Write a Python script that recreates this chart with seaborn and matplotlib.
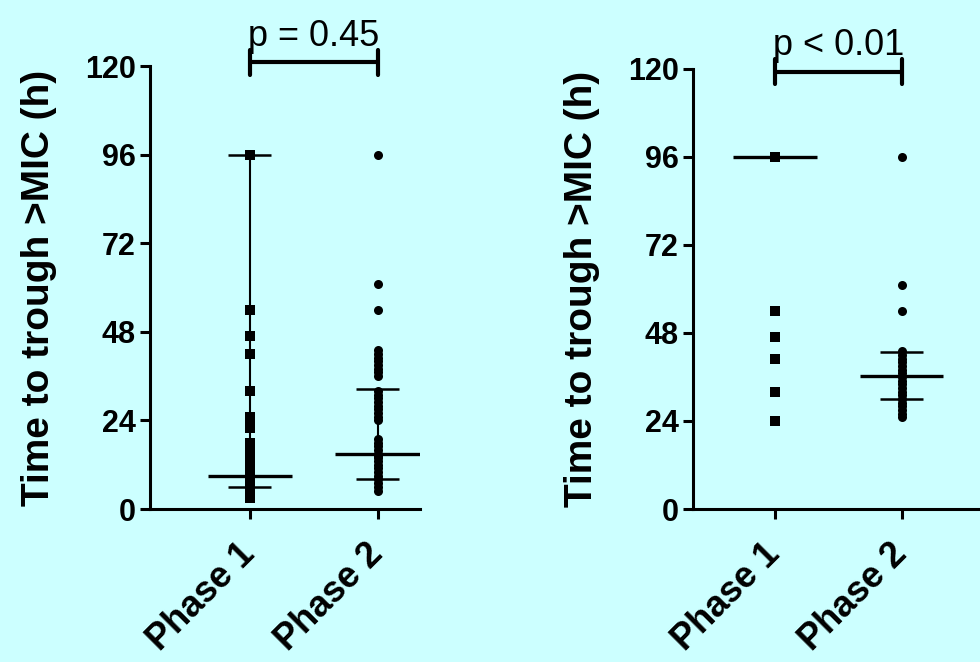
import matplotlib
matplotlib.use('Agg')
import matplotlib.pyplot as plt
import pandas as pd
import seaborn as sns

sns.set_theme(style="ticks")
plt.rcParams['font.family'] = ['Liberation Sans', 'DejaVu Sans']
plt.rcParams['text.color'] = 'black'
plt.rcParams['axes.labelcolor'] = 'black'
plt.rcParams['xtick.color'] = 'black'
plt.rcParams['ytick.color'] = 'black'

# global parameter
bg_color = '#ccffff'
fts_tick = 22
fts_label = 28
fts_phase = 26
fts_p = 26
spine_w = 2.2

# data
phases = ['Phase 1', 'Phase 2']
yticks = [0, 24, 48, 72, 96, 120]
y_label = 'Time to trough >MIC (h)'

left_phase1 = [96, 54, 47, 42, 32, 25, 23, 22, 18, 17, 16, 16, 15, 14, 13, 12, 12, 11,
               10, 9, 9, 8, 8, 7, 7, 6, 6, 5, 5, 4, 4, 3]
left_phase2 = [96, 61, 54, 43, 42, 41, 40, 39, 38, 37, 36, 32, 31, 30, 29, 28, 27, 26,
               25, 24, 19, 18, 17, 16, 15, 14, 14, 13, 12, 11, 10, 9, 8, 7, 6, 5]
right_phase1 = [96, 96, 96, 96, 96, 96, 96, 96, 54, 47, 41, 32, 24]
right_phase2 = [96, 61, 54, 43, 42, 41, 40, 39, 38, 37, 36, 35, 34, 33, 32, 31, 30, 29,
                28, 27, 26, 25]

left_median = [9, 15]
left_lower = [6, 8]
left_upper = [96, 32.5]
right_median = [96, 36.3]
right_lower = [96, 30]
right_upper = [96, 42.7]

p_labels = ['p = 0.45', 'p < 0.01']
bracket_y = [121, 119.2]


def DrawPanel(ax, v1, v2, med, lo, hi, p_text, by, xlim):
    df = pd.DataFrame({'phase': [phases[0]] * len(v1) + [phases[1]] * len(v2),
                       'value': v1 + v2})
    markers = ['s', 'o']
    for ph, mk in zip(phases, markers):
        sns.stripplot(data=df[df['phase'] == ph], x='phase', y='value', order=phases,
                      jitter=False, marker=mk, size=6.5, color='black', linewidth=0,
                      ax=ax, zorder=3)
    # median with error bars
    for i in range(len(phases)):
        ax.vlines(i, lo[i], hi[i], color='black', lw=1.5, zorder=4)
        ax.hlines(med[i], i - 0.33, i + 0.33, color='black', lw=2.4, zorder=4)
        if lo[i] != med[i]:
            ax.hlines(lo[i], i - 0.17, i + 0.17, color='black', lw=1.8, zorder=4)
        if hi[i] != med[i]:
            ax.hlines(hi[i], i - 0.17, i + 0.17, color='black', lw=1.8, zorder=4)
    # significance bracket
    ax.plot([0, 1], [by, by], color='black', lw=3, clip_on=False, solid_capstyle='butt')
    for i in range(len(phases)):
        ax.plot([i, i], [by - 3.4, by + 3.4], color='black', lw=3, clip_on=False,
                solid_capstyle='round')
    ax.text(0.5, by + 2.4, p_text, ha='center', va='bottom', fontsize=fts_p,
            color='black', clip_on=False)

    ax.set_xlim(*xlim)
    ax.set_ylim(0, 120)
    ax.set_yticks(yticks)
    ax.set_facecolor(bg_color)
    for s in ['top', 'right']:
        ax.spines[s].set_visible(False)
    for s in ['left', 'bottom']:
        ax.spines[s].set_linewidth(spine_w)
        ax.spines[s].set_color('black')
    ax.tick_params(axis='both', direction='out', length=7, width=spine_w, color='black')
    ax.tick_params(axis='y', labelsize=fts_tick, pad=3)
    ax.tick_params(axis='x', pad=22)
    for t in ax.get_yticklabels():
        t.set_fontweight('bold')
    ax.set_xticks(range(len(phases)))
    ax.set_xticklabels(phases, rotation=45, ha='right', va='center', rotation_mode='anchor',
                       fontsize=fts_phase, fontweight='bold')
    ax.set_xlabel('')
    ax.set_ylabel(y_label, fontsize=fts_label, fontweight='bold')


fig = plt.figure(figsize=(9.8, 6.62), dpi=100, facecolor=bg_color)
ax1 = fig.add_axes([0.153, 0.2311, 0.2755, 0.669])
ax2 = fig.add_axes([0.707, 0.2311, 0.293, 0.665])

DrawPanel(ax1, left_phase1, left_phase2, left_median, left_lower, left_upper,
          p_labels[0], bracket_y[0], (-0.78, 1.33))
DrawPanel(ax2, right_phase1, right_phase2, right_median, right_lower, right_upper,
          p_labels[1], bracket_y[1], (-0.65, 1.62))
ax1.yaxis.set_label_coords(-0.345, 0.5)
ax2.yaxis.set_label_coords(-0.322, 0.5)

plt.savefig('out.png', dpi=100, facecolor=bg_color)
plt.close()
